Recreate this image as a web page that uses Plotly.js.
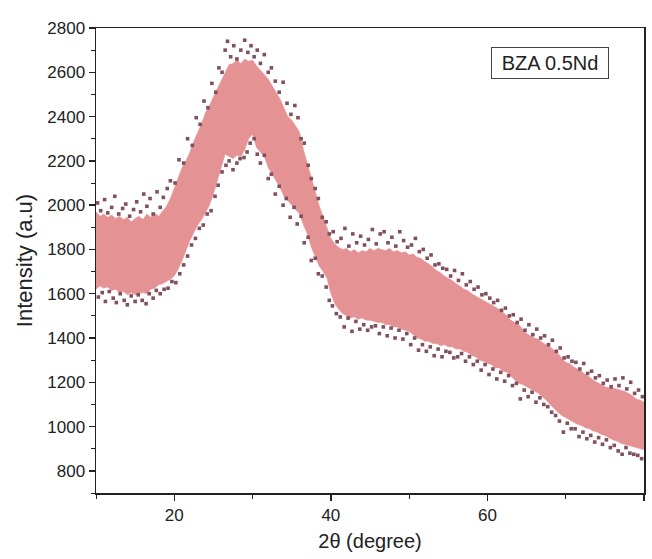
<!DOCTYPE html>
<html>
<head>
<meta charset="utf-8">
<script src="https://cdn.plot.ly/plotly-3.0.1.min.js"></script>
<style>html,body{margin:0;padding:0;background:#fff;}#chart{width:652px;height:559px;}</style>
</head>
<body>
<div id="chart"></div>
<script>
// 2θ positions of the band envelope (degrees)
const twoTheta = [10,10.5,11,11.5,12,12.5,13,13.5,14,14.5,15,15.5,16,16.5,17,17.5,18,18.5,19,19.5,
 20,20.5,21,21.5,22,22.5,23,23.5,24,24.5,25,25.5,26,26.5,27,27.5,28,28.5,29,29.5,
 30,30.5,31,31.5,32,32.5,33,33.5,34,34.5,35,35.5,36,36.5,37,37.5,38,38.5,39,39.5,
 40,40.5,41,41.5,42,42.5,43,43.5,44,44.5,45,45.5,46,46.5,47,47.5,48,48.5,49,49.5,
 50,50.5,51,51.5,52,52.5,53,53.5,54,54.5,55,55.5,56,56.5,57,57.5,58,58.5,59,59.5,
 60,60.5,61,61.5,62,62.5,63,63.5,64,64.5,65,65.5,66,66.5,67,67.5,68,68.5,69,69.5,
 70,70.5,71,71.5,72,72.5,73,73.5,74,74.5,75,75.5,76,76.5,77,77.5,78,78.5,79,79.5,80];
// upper edge of the dense scatter band (intensity)
const upperEdge = [1970,1950,1960,1945,1955,1940,1950,1935,1945,1925,1940,1950,1935,1960,1945,1965,1950,1970,1995,2030,
 2080,2120,2170,2200,2240,2290,2330,2370,2420,2450,2490,2525,2565,2600,2635,2640,2655,2640,2660,2650,
 2655,2630,2610,2595,2570,2540,2510,2480,2440,2400,2385,2360,2330,2250,2185,2120,2060,2000,1950,1900,
 1850,1825,1810,1800,1805,1790,1800,1785,1795,1790,1805,1795,1805,1800,1795,1805,1790,1795,1785,1790,
 1775,1780,1765,1760,1745,1735,1720,1705,1695,1680,1670,1660,1645,1635,1620,1615,1600,1590,1580,1570,
 1560,1550,1540,1530,1515,1500,1480,1470,1460,1440,1420,1410,1400,1395,1380,1370,1360,1345,1330,1310,
 1290,1285,1270,1260,1250,1235,1225,1210,1200,1190,1180,1175,1175,1170,1165,1160,1150,1140,1125,1120,1110];
// lower edge of the dense scatter band (intensity)
const lowerEdge = [1620,1635,1625,1630,1615,1620,1605,1610,1595,1605,1595,1600,1605,1600,1620,1625,1640,1645,1655,1665,
 1680,1710,1750,1800,1840,1875,1910,1935,1970,2000,2050,2110,2170,2230,2220,2210,2225,2220,2250,2300,
 2320,2260,2240,2220,2170,2140,2110,2080,2040,2020,2000,1985,1960,1910,1870,1810,1770,1725,1700,1670,
 1600,1555,1530,1510,1500,1490,1495,1485,1490,1480,1480,1475,1470,1470,1460,1460,1450,1450,1440,1435,
 1430,1415,1400,1395,1385,1385,1375,1375,1365,1370,1360,1360,1350,1350,1340,1335,1320,1315,1300,1295,
 1285,1280,1265,1265,1250,1245,1225,1210,1195,1190,1180,1170,1160,1150,1135,1120,1100,1080,1065,1050,
 1040,1030,1020,1010,1005,995,990,980,975,965,960,950,940,935,925,920,915,910,905,900,895];
// individual scattered points sticking out above the band
const topX = [10.2,10.6,11.1,11.5,12.0,12.4,12.9,13.4,13.8,14.3,14.8,15.2,15.7,16.1,16.5,16.9,17.3,17.8,18.2,18.6,19.1,19.5,
 20.1,20.6,21.2,21.7,22.3,22.8,23.3,23.8,24.3,24.8,25.3,25.7,26.1,26.5,26.8,27.2,27.6,28.0,28.5,29.0,29.4,29.8,30.2,30.6,31.0,31.5,32.0,32.4,32.9,33.4,33.9,34.4,34.9,35.4,35.8,36.2,36.6,37.1,37.5,38.0,38.4,38.9,39.4,39.8,
 40.3,40.8,41.3,41.8,42.3,42.8,43.3,43.8,44.3,44.8,45.3,45.8,46.3,46.8,47.3,47.8,48.3,48.8,49.3,49.8,50.3,50.8,51.3,51.8,52.3,52.8,53.3,53.8,54.3,54.8,55.3,55.8,56.3,56.8,57.3,57.8,58.3,58.8,59.3,59.8,
 60.3,60.8,61.3,61.8,62.3,62.8,63.3,63.8,64.3,64.8,65.3,65.8,66.3,66.8,67.3,67.8,68.3,68.8,69.3,69.8,70.3,70.8,71.3,71.8,72.3,72.8,73.3,73.8,74.3,74.8,75.3,75.8,76.3,76.8,77.3,77.8,78.3,78.8,79.3,79.8];
const topY = [2010,1975,2025,1965,1990,2040,1960,1985,2005,1950,1980,2015,1970,2050,1995,2030,1960,2060,1990,2035,2075,2110,
 2100,2205,2190,2300,2270,2395,2365,2470,2440,2550,2510,2620,2600,2700,2740,2670,2720,2660,2700,2745,2690,2720,2670,2700,2640,2680,2600,2620,2560,2510,2555,2460,2410,2450,2395,2300,2280,2180,2120,2075,2030,1945,1925,1870,
 1880,1835,1850,1895,1815,1870,1830,1860,1820,1845,1890,1825,1870,1880,1830,1855,1815,1880,1840,1810,1820,1850,1790,1800,1760,1775,1730,1735,1715,1710,1680,1705,1660,1690,1640,1655,1620,1630,1595,1600,
 1580,1560,1570,1525,1535,1500,1505,1470,1485,1435,1460,1415,1440,1400,1410,1370,1390,1340,1355,1310,1315,1295,1290,1260,1285,1240,1250,1220,1230,1195,1210,1180,1215,1185,1220,1170,1200,1150,1165,1135];
// individual scattered points sticking out below the band
const botX = [10.3,10.8,11.2,11.7,12.2,12.6,13.1,13.6,14.0,14.5,15.0,15.4,15.9,16.4,16.8,17.3,17.7,18.2,18.7,19.2,19.7,
 20.2,20.7,21.2,21.7,22.2,22.7,23.2,23.7,24.2,24.7,25.2,25.6,26.1,26.6,27.0,27.5,28.0,28.4,28.9,29.3,29.7,30.2,30.6,31.0,31.5,32.0,32.4,32.9,33.4,33.9,34.3,34.8,35.3,35.7,36.2,36.6,37.1,37.5,38.0,38.4,38.9,39.4,39.8,
 40.2,40.7,41.2,41.7,42.2,42.7,43.2,43.7,44.2,44.7,45.2,45.7,46.2,46.7,47.2,47.7,48.2,48.7,49.2,49.7,50.2,50.7,51.2,51.7,52.2,52.7,53.2,53.7,54.2,54.7,55.2,55.7,56.2,56.7,57.2,57.7,58.2,58.7,59.2,59.7,
 60.2,60.7,61.2,61.7,62.2,62.7,63.2,63.7,64.2,64.7,65.2,65.7,66.2,66.7,67.2,67.7,68.2,68.7,69.2,69.7,70.2,70.7,71.2,71.7,72.2,72.7,73.2,73.7,74.2,74.7,75.2,75.7,76.2,76.7,77.2,77.7,78.2,78.7,79.2,79.7];
const botY = [1585,1605,1565,1610,1580,1560,1600,1570,1550,1590,1565,1595,1570,1555,1600,1580,1615,1600,1620,1625,1655,
 1650,1690,1730,1770,1820,1850,1895,1910,1960,1975,2040,2090,2150,2180,2200,2160,2190,2210,2215,2240,2280,2300,2230,2190,2225,2120,2140,2050,2085,2000,2030,1945,1990,1915,1950,1830,1855,1750,1760,1690,1680,1630,1570,
 1545,1510,1495,1450,1490,1430,1475,1440,1460,1435,1450,1455,1420,1450,1410,1445,1400,1435,1395,1420,1370,1400,1345,1370,1340,1360,1320,1350,1315,1340,1335,1310,1315,1330,1295,1315,1280,1295,1255,1280,
 1235,1260,1215,1245,1205,1230,1185,1195,1125,1165,1135,1155,1110,1130,1100,1090,1065,1050,1025,975,1015,990,990,955,975,945,960,930,950,920,940,905,915,890,875,905,880,875,870,855];
const sampleLabel = 'BZA 0.5Nd';

const bandColor = 'rgb(229,146,148)';
const dotColor = 'rgb(128,80,94)';
const traces = [
  {x: twoTheta, y: lowerEdge, type: 'scatter', mode: 'lines', line: {width: 0.5, color: bandColor}, showlegend: false, hoverinfo: 'skip'},
  {x: twoTheta, y: upperEdge, type: 'scatter', mode: 'lines', fill: 'tonexty', fillcolor: bandColor, line: {width: 0.5, color: bandColor}, showlegend: false},
  {x: topX, y: topY, type: 'scatter', mode: 'markers', marker: {symbol: 'square', size: 3.6, color: dotColor}, showlegend: false},
  {x: botX, y: botY, type: 'scatter', mode: 'markers', marker: {symbol: 'square', size: 3.6, color: dotColor}, showlegend: false}
];
const font = 'Liberation Sans, Arial, sans-serif';
const layout = {
  width: 652, height: 559,
  margin: {l: 96, r: 8, t: 28, b: 66},
  paper_bgcolor: '#fff', plot_bgcolor: '#fff',
  font: {family: font, color: '#222', size: 17},
  xaxis: {
    range: [10, 80], tick0: 0, dtick: 20, ticks: 'outside', ticklen: 6, tickwidth: 1.5, tickcolor: '#222',
    minor: {dtick: 10, ticks: 'outside', ticklen: 4, tickwidth: 1, tickcolor: '#222'},
    showline: true, linecolor: '#222', linewidth: 1.5, mirror: true, showgrid: false, zeroline: false,
    tickfont: {size: 17, family: font, color: '#222'},
    title: {text: '2θ (degree)', font: {size: 20, family: font, color: '#222'}, standoff: 10}
  },
  yaxis: {
    range: [700, 2800], tick0: 0, dtick: 200, ticks: 'outside', ticklen: 6, tickwidth: 1.5, tickcolor: '#222',
    minor: {dtick: 100, ticks: 'outside', ticklen: 4, tickwidth: 1, tickcolor: '#222'},
    showline: true, linecolor: '#222', linewidth: 1.5, mirror: true, showgrid: false, zeroline: false,
    tickfont: {size: 17, family: font, color: '#222'},
    title: {text: 'Intensity (a.u)', font: {size: 22, family: font, color: '#222'}, standoff: 8}
  },
  annotations: [{
    text: sampleLabel, xref: 'paper', yref: 'paper', x: 0.8276, y: 0.925, xanchor: 'center', yanchor: 'middle',
    showarrow: false, font: {size: 20, family: font, color: '#222'},
    bordercolor: '#444', borderwidth: 1, borderpad: 4, width: 108, height: 22
  }]
};
Plotly.newPlot('chart', traces, layout, {displayModeBar: false, staticPlot: true});
</script>
</body>
</html>
